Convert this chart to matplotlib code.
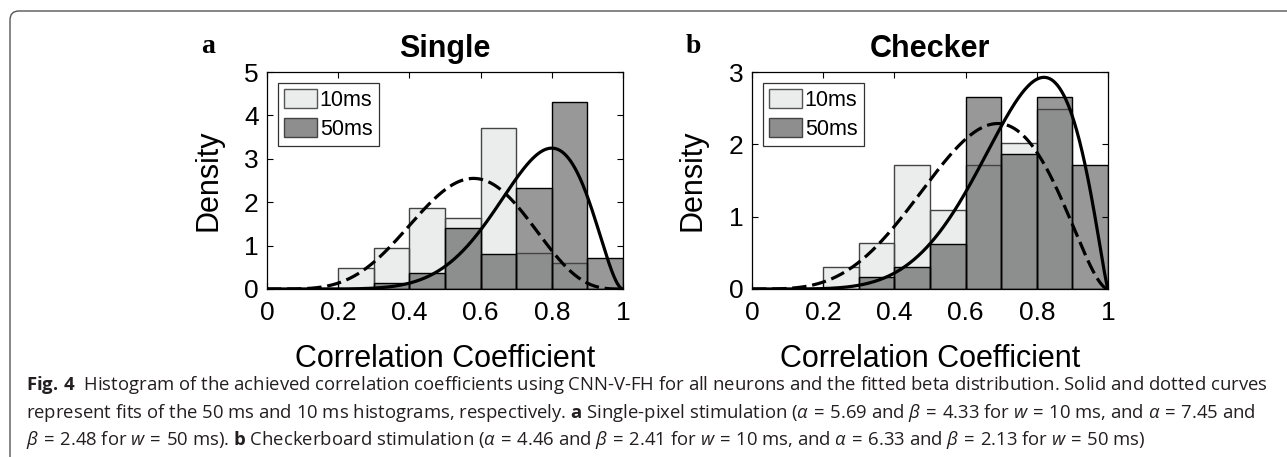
import math
import numpy as np
import matplotlib
matplotlib.use("Agg")
import matplotlib.pyplot as plt
from matplotlib.patches import FancyBboxPatch, Patch
from matplotlib.transforms import IdentityTransform

plt.rcParams['font.family'] = ['Liberation Sans', 'DejaVu Sans']
plt.rcParams['mathtext.fontset'] = 'custom'
plt.rcParams['mathtext.rm'] = 'Open Sans'
plt.rcParams['mathtext.it'] = 'Open Sans:italic'
plt.rcParams['mathtext.bf'] = 'Open Sans:bold'

# histogram bins (correlation coefficient)
bin_edges = [0.0, 0.1, 0.2, 0.3, 0.4, 0.5, 0.6, 0.7, 0.8, 0.9, 1.0]

# density per bin
single_10ms = [0, 0, 0.48, 0.94, 1.86, 1.63, 3.72, 0.82, 0.59, 0]
single_50ms = [0, 0, 0, 0.13, 0.36, 1.40, 0.81, 2.32, 4.30, 0.71]
checker_10ms = [0, 0, 0.31, 0.63, 1.71, 1.09, 1.71, 2.02, 2.49, 0]
checker_50ms = [0, 0, 0, 0.16, 0.31, 0.62, 2.65, 1.87, 2.65, 1.71]

# beta curves (alpha, beta) as drawn in the picture
single_fit_10ms = (5.9, 4.55)
single_fit_50ms = (8.6, 2.9)
checker_fit_10ms = (4.9, 2.75)
checker_fit_50ms = (6.7, 2.25)

titles = ["Single", "Checker"]
panel_letters = ["a", "b"]
ymax = [5, 3]
xticks = [0, 0.2, 0.4, 0.6, 0.8, 1.0]
xticklabels = ["0", "0.2", "0.4", "0.6", "0.8", "1"]

caption = [
    r"$\mathbf{Fig.\,4}$  Histogram of the achieved correlation coefficients using CNN-V-FH for all neurons and the fitted beta distribution. Solid and dotted curves",
    r"represent fits of the 50 ms and 10 ms histograms, respectively. $\mathbf{a}$ Single-pixel stimulation ($\mathit{α}\,=\,$5.69 and $\mathit{β}\,=\,$4.33 for $\mathit{w}\,=\,$10 ms, and $\mathit{α}\,=\,$7.45 and",
    r"$\mathit{β}\,=\,$2.48 for $\mathit{w}\,=\,$50 ms). $\mathbf{b}$ Checkerboard stimulation ($\mathit{α}\,=\,$4.46 and $\mathit{β}\,=\,$2.41 for $\mathit{w}\,=\,$10 ms, and $\mathit{α}\,=\,$6.33 and $\mathit{β}\,=\,$2.13 for $\mathit{w}\,=\,$50 ms)",
]


def beta_pdf(x, a, b):
    norm = math.gamma(a) * math.gamma(b) / math.gamma(a + b)
    return x ** (a - 1) * (1 - x) ** (b - 1) / norm


W, H = 1287, 457
fig = plt.figure(figsize=(W / 100, H / 100), dpi=100)

light = '#ebedec'
dark = (0.07, 0.07, 0.07)
dark_alpha = 0.43

panels = [
    (single_10ms, single_50ms, single_fit_10ms, single_fit_50ms),
    (checker_10ms, checker_50ms, checker_fit_10ms, checker_fit_50ms),
]
lefts = [267, 752]
x = np.linspace(0, 1, 500)
left_edges = bin_edges[:-1]
widths = np.diff(bin_edges)

for i, (h10, h50, f10, f50) in enumerate(panels):
    ax = fig.add_axes([lefts[i] / W, 1 - 289 / H, 356 / W, 217 / H])
    ax.bar(left_edges, h10, width=widths, align='edge', color=light, linewidth=0)
    ax.bar(left_edges, h50, width=widths, align='edge', color=dark, alpha=dark_alpha, linewidth=0)
    ax.bar(left_edges, h10, width=widths, align='edge', fill=False, edgecolor='#444444', linewidth=1.0)
    ax.bar(left_edges, h50, width=widths, align='edge', fill=False, edgecolor='black', linewidth=1.0)

    ax.plot(x, beta_pdf(x, *f50), color='black', lw=2.3, solid_capstyle='round')
    ax.plot(x, beta_pdf(x, *f10), color='black', lw=2.3, dashes=(4.5, 1.8))

    ax.set_xlim(0, 1)
    ax.set_ylim(0, ymax[i])
    ax.set_xticks(xticks)
    ax.set_xticklabels(xticklabels)
    ax.set_yticks(range(ymax[i] + 1))
    ax.tick_params(direction='in', length=4, width=0.8, top=True, right=True, labelsize=19)
    ax.tick_params(axis='x', pad=9)
    ax.tick_params(axis='y', pad=6)
    for s in ax.spines.values():
        s.set_linewidth(0.9)
    ax.set_title(titles[i], fontsize=22, fontweight='bold', pad=11)

    handles = [Patch(facecolor=light, edgecolor='#555555', linewidth=1.0),
               Patch(facecolor='#8e8e8e', edgecolor='#444444', linewidth=1.0)]
    leg = ax.legend(handles, ["10ms", "50ms"], loc='upper left', fontsize=15.5,
                    handlelength=1.5, handleheight=1.0, handletextpad=0.15,
                    labelspacing=0.3, borderpad=0.3, borderaxespad=0.5,
                    fancybox=False, framealpha=1, edgecolor='#333333')
    leg.get_frame().set_linewidth(0.9)

    cx = (lefts[i] + 178) / W
    fig.text(cx, 1 - 367 / H, "Correlation Coefficient", fontsize=22, ha='center', va='baseline')
    fig.text((lefts[i] - 59) / W, 1 - 180 / H, "Density", fontsize=22, rotation=90, ha='center', va='center')
    fig.text((lefts[i] - 59) / W, 1 - 53 / H, panel_letters[i], fontsize=20, fontweight='bold',
             family='Liberation Serif', ha='center', va='baseline')

frame = FancyBboxPatch((10, -30), W + 40, H - 11 + 30, boxstyle='round,pad=0,rounding_size=9',
                       transform=IdentityTransform(), fill=False, edgecolor='#555555', linewidth=1.0)
fig.add_artist(frame)

for k, line in enumerate(caption):
    fig.text(26 / W, 1 - (390 + 27.5 * k) / H, line, fontsize=13.3, family='Open Sans',
             color='#231f20', ha='left', va='baseline')

fig.savefig("out.png", dpi=100)
